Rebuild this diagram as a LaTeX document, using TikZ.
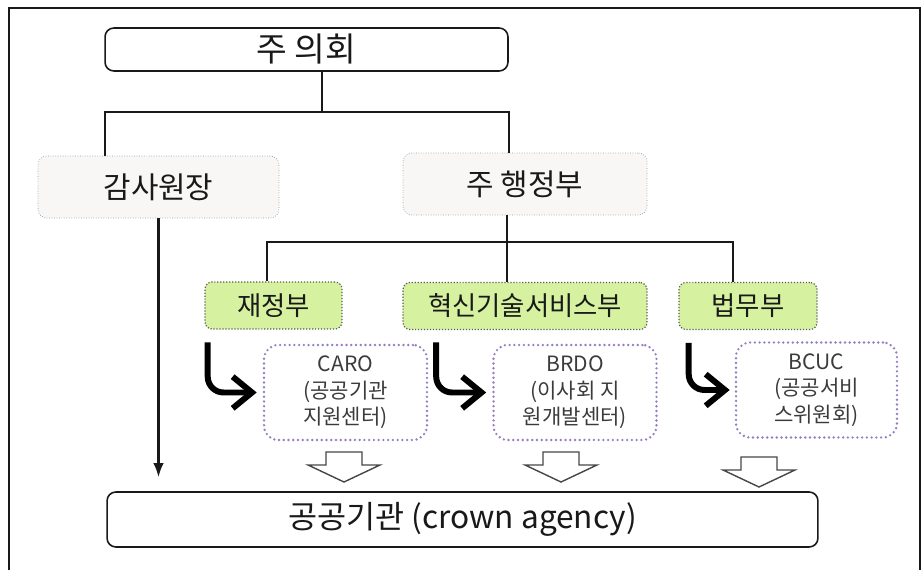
\documentclass[tikz,border=0pt]{standalone}
\usepackage{fontspec}
\setmainfont{Noto Sans CJK KR}
\usepackage{tikz}
\usetikzlibrary{arrows.meta, calc}
\definecolor{boxgray}{RGB}{249,247,245}
\definecolor{dotgray}{RGB}{150,150,150}
\definecolor{leafgreen}{RGB}{214,242,160}
\definecolor{leafedge}{RGB}{85,95,75}
\definecolor{lilac}{RGB}{150,125,195}
\definecolor{inkgray}{RGB}{25,25,25}

\begin{document}
\begin{tikzpicture}[x=0.02cm, y=-0.02cm,
    mainbox/.style={rectangle, draw=inkgray, line width=0.9pt, rounded corners=5pt, fill=white, text=inkgray},
    softbox/.style={rectangle, draw=dotgray, densely dotted, fill=boxgray, rounded corners=5pt, minimum height=1.24cm, text=inkgray, font=\fontsize{17}{20}\selectfont},
    deptbox/.style={rectangle, draw=leafedge, densely dotted, line width=0.7pt, fill=leafgreen, rounded corners=4pt, minimum height=0.94cm, text=inkgray, font=\fontsize{15}{18}\selectfont},
    unitbox/.style={rectangle, draw=lilac, line width=1.5pt, dash pattern=on 0pt off 2.7pt, line cap=round, rounded corners=8pt, minimum width=3.26cm, minimum height=1.9cm, align=center, text=inkgray!85, font=\fontsize{12}{15}\selectfont},
    link/.style={draw=inkgray, line width=1.1pt},
    arr/.style={-{Latex[length=8pt, width=6pt]}, line width=1.3pt, inkgray},
    bent/.style={-{Straight Barb[length=11pt, width=18pt]}, line width=3.4pt, rounded corners=9pt},
    hollow/.pic={\draw[fill=white, draw=inkgray!80, line width=0.8pt] (-18,0) -- (18,0) -- (18,13) -- (36,13) -- (0,30) -- (-36,13) -- (-18,13) -- cycle;}
]
\useasboundingbox (0,0) rectangle (922,570);
\draw[inkgray, line width=1.2pt] (9,570) -- (9,8) -- (920,8) -- (920,570);

\node[mainbox, minimum width=8.06cm, minimum height=0.86cm, font=\fontsize{19}{22}\selectfont] (council) at (306.5,49.5) {주 의회};
\node[softbox, minimum width=4.82cm] (aud) at (158.5,187) {감사원장};
\node[softbox, minimum width=4.88cm] (ex) at (525,184) {주 행정부};

\node[deptbox, minimum width=2.74cm] (fin) at (273.5,305.5) {재정부};
\node[deptbox, minimum width=4.88cm] (inn) at (525,306) {혁신기술서비스부};
\node[deptbox, minimum width=2.76cm] (law) at (748,306) {법무부};

\node[unitbox] (caro) at (345.5,392.5) {CARO\\(공공기관\\지원센터)};
\node[unitbox] (brdo) at (575,392.5) {BRDO\\(이사회 지\\원개발센터)};
\node[unitbox, minimum width=3.22cm] (bcuc) at (816.5,390) {BCUC\\(공공서비\\스위원회)};

\node[mainbox, minimum width=14.22cm, minimum height=1.1cm, font=\fontsize{18}{21}\selectfont] (agency) at (462.5,519.5) {공공기관 (crown agency)};

% tree lines
\coordinate (a1) at (105,112);
\coordinate (b1) at (509,112);
\coordinate (c1) at (267,242);
\coordinate (c2) at (507,242);
\coordinate (c3) at (733,242);
\draw[link] (council.south -| 322,0) -- (322,112);
\draw[link] (aud.north -| a1) -- (a1) -- (b1) -- (ex.north -| b1);
\draw[link] (ex.south -| c2) -- (c2) -- (inn.north -| c2);
\draw[link] (fin.north -| c1) -- (c1) -- (c3) -- (law.north -| c3);

\draw[arr, shorten >=0.28cm] (aud.south) -- (aud.south |- agency.north);

\draw[bent] ([shift={(-55,-50)}]caro.west) |- ([shift={(-6,0)}]caro.west);
\draw[bent] ([shift={(-56,-50)}]brdo.west) |- ([shift={(-6,0)}]brdo.west);
\draw[bent] ([shift={(-46,-47)}]bcuc.west) |- ([shift={(-5,0)}]bcuc.west);

\pic at (344,452) {hollow};
\pic at (561,452) {hollow};
\pic at (759,457) {hollow};
\end{tikzpicture}
\end{document}
